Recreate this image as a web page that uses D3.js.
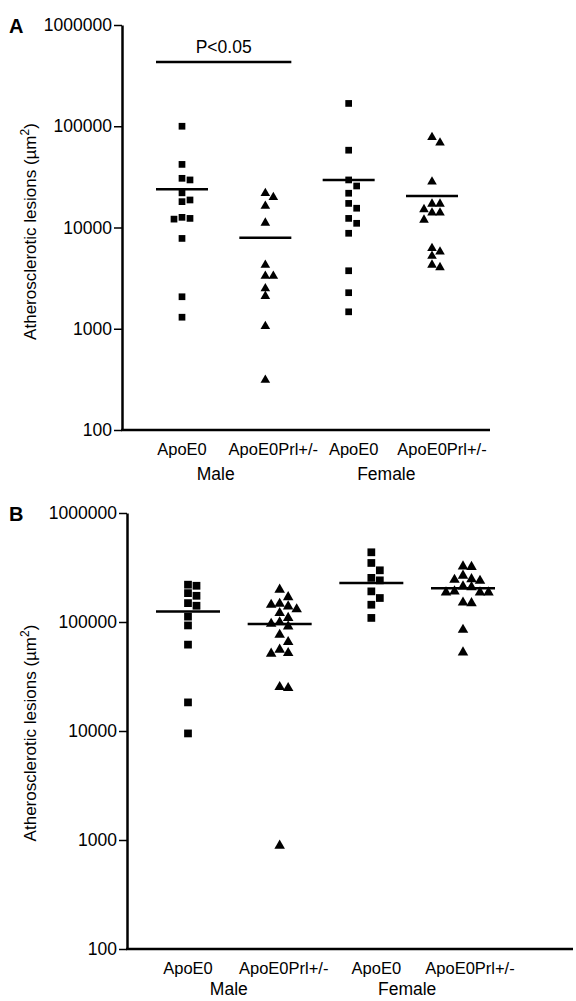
<!DOCTYPE html>
<html>
<head>
<meta charset="utf-8">
<script src="https://cdn.jsdelivr.net/npm/d3@7"></script>
<style>
  body { margin: 0; background: #fff; }
  text { font-family: 'Liberation Sans', Arial, sans-serif; fill: #000; }
</style>
</head>
<body>
<div id="container"></div>
<script>
// categories
const groups = ['ApoE0', 'ApoE0Prl+/-', 'ApoE0', 'ApoE0Prl+/-'];
const sexes = ['Male', 'Female'];
const shapes = ['square', 'triangle', 'square', 'triangle'];
const yTicks = [100, 1000, 10000, 100000, 1000000];
const yTitle = 'Atherosclerotic lesions (\u00b5m';

// panel A values (um^2), one list per group
const lesionsA = [
    [100000, 42000, 30600, 29500, 22000, 18700, 18000, 12600, 12300, 12100, 7800, 2070, 1300],
    [21800, 19900, 16300, 11100, 4260, 3320, 3320, 2500, 2100, 1060, 312],
    [168000, 58000, 29500, 25700, 21800, 17300, 15500, 12300, 11000, 8770, 3740, 2270, 1470],
    [77800, 68800, 28300, 17100, 17100, 15100, 14000, 14000, 11900, 6240, 5770, 5230, 4270, 4040]
];
const meansA = [23800, 7900, 29500, 20500];
const sigA = { from: 0, to: 1, value: 430000, label: 'P<0.05' };

// panel B values
const lesionsB = [
    [220000, 215000, 184000, 174000, 149000, 141000, 112000, 93000, 62000, 18300, 9500],
    [198000, 169000, 147000, 144000, 139000, 131000, 121000, 109000, 99300, 96400, 91100, 76400, 65600, 55700, 51900, 51200, 25300, 24800, 888],
    [436000, 348000, 298000, 254000, 241000, 191000, 166000, 144000, 109000],
    [324000, 320000, 266000, 247000, 244000, 239000, 212000, 209000, 191000, 187000, 187000, 187000, 151000, 149000, 84900, 52600]
];
const meansB = [125000, 95800, 228000, 204000];

const W = 576, H = 1001;
const svg = d3.select('#container')
    .append('svg')
    .attr('width', W)
    .attr('height', H);

svg.append('rect').attr('width', W).attr('height', H).attr('fill', '#fff');

// spread points that would overlap, like the original scatter columns
function dodge(values, y, step) {
    const pts = values.map(v => ({ v, py: y(v) })).sort((a, b) => a.py - b.py);
    const placed = [];
    pts.forEach(p => {
        for (let k = 0; k < 12; k++) {
            const off = (k % 2 ? 1 : -1) * Math.ceil(k / 2) * step;
            const hit = placed.some(q => Math.abs(q.dx - off) < step * 0.9 && Math.abs(q.py - p.py) < step * 0.9);
            if (!hit) { p.dx = off; break; }
        }
        placed.push(p);
    });
    return pts;
}

function drawPanel(cfg) {
    const g = svg.append('g');

    const y = d3.scaleLog()
        .domain([100, 1000000])
        .range([cfg.bottom, cfg.top]);

    const x = d3.scalePoint()
        .domain(d3.range(groups.length))
        .range(cfg.xRange);

    // y axis
    const yAxis = g.append('g')
        .attr('transform', `translate(${cfg.left},0)`)
        .call(d3.axisLeft(y)
            .tickValues(yTicks)
            .tickFormat(d3.format('d'))
            .tickSize(8)
            .tickSizeOuter(0)
            .tickPadding(2));
    yAxis.select('.domain').attr('stroke-width', 2.5);
    yAxis.selectAll('.tick line').attr('stroke-width', 1.5);
    yAxis.selectAll('.tick text')
        .attr('font-size', 17.5)
        .attr('font-family', "'Liberation Sans', Arial, sans-serif");

    // x axis baseline
    g.append('line')
        .attr('x1', cfg.left - 1)
        .attr('x2', cfg.right)
        .attr('y1', cfg.bottom)
        .attr('y2', cfg.bottom)
        .attr('stroke', '#000')
        .attr('stroke-width', 2.5);

    // category labels
    g.append('g')
        .selectAll('text')
        .data(groups)
        .enter()
        .append('text')
        .attr('x', (d, i) => x(i) + cfg.labelShift[i])
        .attr('y', cfg.bottom + 25)
        .attr('text-anchor', 'middle')
        .attr('font-size', 16.5)
        .text(d => d);

    g.append('g')
        .selectAll('text')
        .data(sexes)
        .enter()
        .append('text')
        .attr('x', (d, i) => (x(2 * i) + x(2 * i + 1)) / 2 + cfg.sexShift[i])
        .attr('y', cfg.bottom + cfg.sexY)
        .attr('text-anchor', 'middle')
        .attr('font-size', 17.5)
        .text(d => d);

    // y title
    const t = g.append('text')
        .attr('transform', `translate(${cfg.titleX},${(cfg.top + cfg.bottom) / 2 + cfg.titleShift}) rotate(-90)`)
        .attr('text-anchor', 'middle')
        .attr('font-size', 17);
    t.append('tspan').text(yTitle);
    t.append('tspan').attr('font-size', 12).attr('dy', -7).text('2');
    t.append('tspan').attr('dy', 7).text(')');

    // panel letter
    g.append('text')
        .attr('x', 9)
        .attr('y', cfg.top + 8)
        .attr('font-size', 20)
        .attr('font-weight', 'bold')
        .text(cfg.letter);

    // points
    cfg.values.forEach((vals, i) => {
        const type = shapes[i] === 'square' ? d3.symbolSquare : d3.symbolTriangle;
        const size = shapes[i] === 'square' ? cfg.sq : cfg.tri;
        const pts = dodge(vals, y, cfg.step);
        g.append('g')
            .selectAll('path')
            .data(pts)
            .enter()
            .append('path')
            .attr('d', d3.symbol().type(type).size(size))
            .attr('transform', d => `translate(${x(i) + d.dx},${d.py})`)
            .attr('fill', '#000');
    });

    // mean lines
    g.append('g')
        .selectAll('line')
        .data(cfg.means)
        .enter()
        .append('line')
        .attr('x1', (d, i) => x(i) - cfg.meanHalf)
        .attr('x2', (d, i) => x(i) + cfg.meanHalf)
        .attr('y1', d => y(d))
        .attr('y2', d => y(d))
        .attr('stroke', '#000')
        .attr('stroke-width', 2.5);

    // significance bar
    if (cfg.sig) {
        const s = cfg.sig;
        const x1 = x(s.from) - cfg.meanHalf, x2 = x(s.to) + cfg.meanHalf;
        g.append('line')
            .attr('x1', x1).attr('x2', x2)
            .attr('y1', y(s.value)).attr('y2', y(s.value))
            .attr('stroke', '#000')
            .attr('stroke-width', 2.5);
        g.append('text')
            .attr('x', (x1 + x2) / 2)
            .attr('y', y(s.value) - 9)
            .attr('text-anchor', 'middle')
            .attr('font-size', 17.5)
            .text(s.label);
    }
}

drawPanel({
    letter: 'A', values: lesionsA, means: meansA, sig: sigA,
    top: 25, bottom: 430, left: 122, right: 490,
    xRange: [182, 432], labelShift: [0, 8, 5, 10], sexShift: [-8, -4], sexY: 50,
    titleX: 36, titleShift: 4,
    sq: 45, tri: 40, step: 8, meanHalf: 26
});

drawPanel({
    letter: 'B', values: lesionsB, means: meansB, sig: null,
    top: 513, bottom: 949, left: 127, right: 573,
    xRange: [188, 463], labelShift: [0, 4, 5, 7], sexShift: [-5, -10], sexY: 46,
    titleX: 36, titleShift: 2,
    sq: 60, tri: 48, step: 8.5, meanHalf: 32
});
</script>
</body>
</html>
